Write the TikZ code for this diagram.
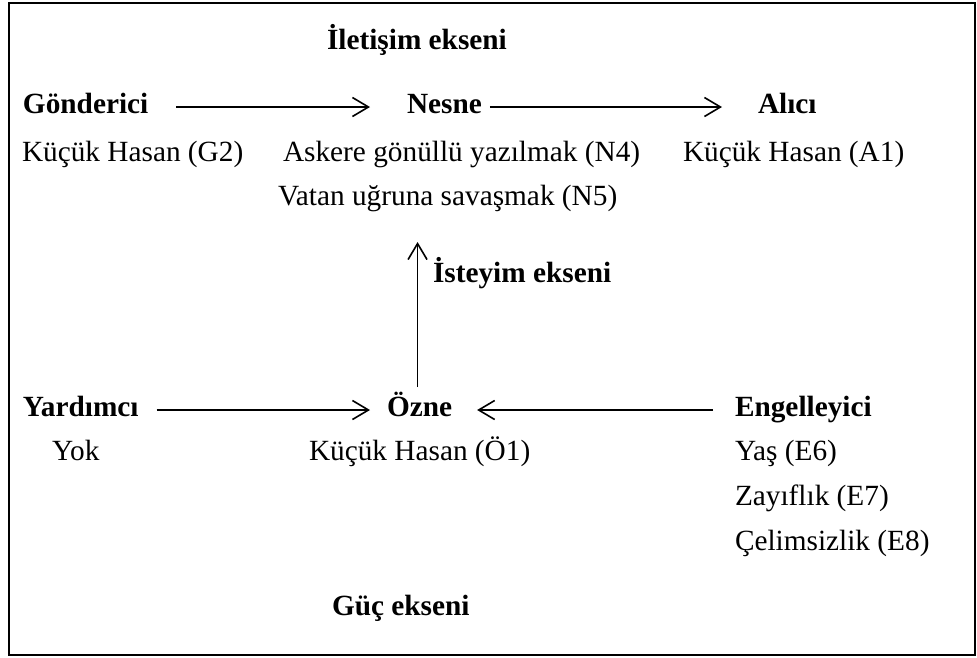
\documentclass[tikz,border=0pt]{standalone}
\usepackage{fontspec}
\setmainfont{Liberation Serif}
\usetikzlibrary{arrows.meta}
\begin{document}
\begin{tikzpicture}[x=1pt,y=-1pt,
  lbl/.style={inner sep=0pt,outer sep=0pt,anchor=base west,
    text height=19pt,text depth=7pt,font=\fontsize{29.3pt}{35pt}\selectfont},
  hd/.style={lbl,font=\fontsize{29.3pt}{35pt}\selectfont\bfseries},
  ax/.style={line width=1.6pt,
    -{Straight Barb[length=16pt,width=19pt,line width=1.6pt]}}]
\useasboundingbox (0,0) rectangle (977,657);
% frame
\draw[line width=2pt] (9,3) rectangle (975,655);

% communication axis
\node[hd] (ilet) at (327,49) {İletişim ekseni};
\node[hd] (gon) at (23,113) {Gönderici};
\node[hd] (nes) at (407,113) {Nesne};
\node[hd] (ali) at (758,113) {Alıcı};
\node[lbl] (g2) at (22,161) {Küçük Hasan (G2)};
\node[lbl] (n4) at (283,161) {Askere gönüllü yazılmak (N4)};
\node[lbl] (a1) at (683,161) {Küçük Hasan (A1)};
\node[lbl] (n5) at (278,205) {Vatan uğruna savaşmak (N5)};

% desire axis
\node[hd] (ist) at (433,282) {İsteyim ekseni};

% power axis
\node[hd] (yar) at (23,416) {Yardımcı};
\node[hd] (ozn) at (387,416) {Özne};
\node[hd] (eng) at (735,416) {Engelleyici};
\node[lbl] (yok) at (52,460) {Yok};
\node[lbl] (o1) at (309,460) {Küçük Hasan (Ö1)};
\node[lbl] (e6) at (735,460) {Yaş (E6)};
\node[lbl] (e7) at (735,505) {Zayıflık (E7)};
\node[lbl] (e8) at (735,550) {Çelimsizlik (E8)};
\node[hd] (guc) at (332,615) {Güç ekseni};

% connectors
\draw[ax,shorten <=28pt,shorten >=37pt] (gon.east) -- (nes.west);
\draw[ax,shorten <=8pt,shorten >=36pt] (nes.east) -- (ali.west);
\draw[ax,shorten <=18pt,shorten >=17pt] (yar.east) -- (ozn.west);
\draw[ax,shorten <=22pt,shorten >=25pt] (eng.west) -- (ozn.east);
\draw[ax,shorten <=10pt,shorten >=30pt] ([xshift=-2pt]ozn.north) -- ([xshift=-2pt]ozn.north |- n5.south);
\end{tikzpicture}
\end{document}
